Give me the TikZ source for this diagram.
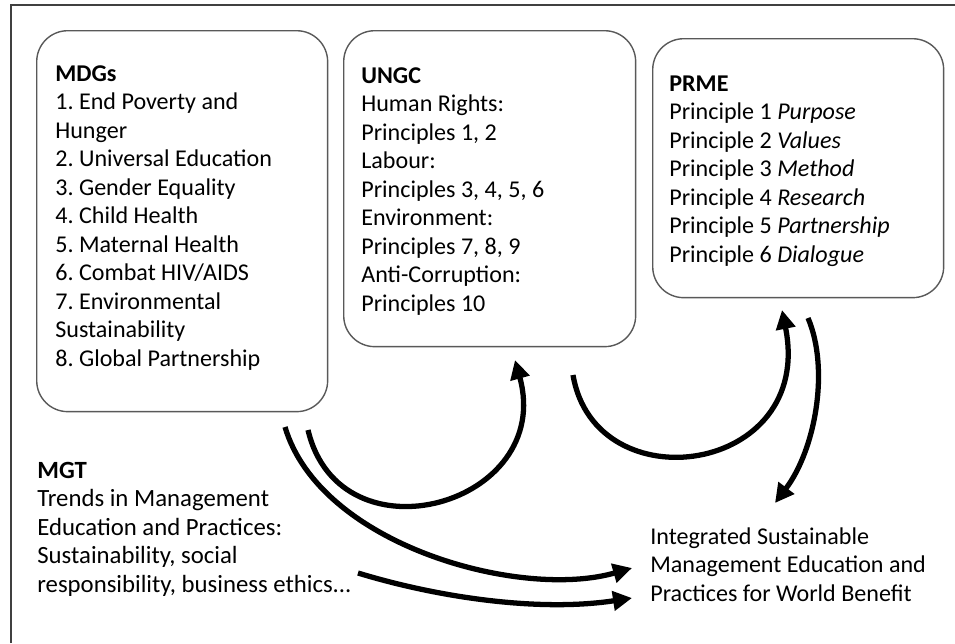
\documentclass[tikz,border=0pt]{standalone}
\usepackage{fontspec}
\setmainfont{Carlito}
\usetikzlibrary{arrows.meta}

\begin{document}
\begin{tikzpicture}[x=0.02cm, y=-0.02cm,
    panel/.style={draw=black!65, line width=0.8pt, rounded corners=0.62cm, anchor=north west, inner sep=0},
    txt/.style={anchor=base west, align=left, inner sep=0, font=\fontsize{13.7}{16.2}\selectfont\frenchspacing},
    flow/.style={line width=3pt, -{Triangle[length=0.38cm, width=0.38cm]}}]
  \useasboundingbox (0,0) rectangle (955,643);
  \draw[line width=1.1pt, black!75] (11,643) -- (11,5) -- (955,5);

  \node[panel, minimum width=5.82cm, minimum height=7.62cm] (mdg) at (36,30) {};
  \node[panel, minimum width=5.84cm, minimum height=6.32cm] (ungc) at (343,30) {};
  \node[panel, minimum width=5.82cm, minimum height=5.18cm] (prme) at (652,38) {};

  \node[txt] (mdgtext) at (55,366) {\textbf{MDGs}\\1. End Poverty and\\Hunger\\2. Universal Education\\3. Gender Equality\\4. Child Health\\5. Maternal Health\\6. Combat HIV/AIDS\\7. Environmental\\Sustainability\\8. Global Partnership};
  \node[txt] (ungctext) at (361,311) {\textbf{UNGC}\\Human Rights:\\Principles 1, 2\\Labour:\\Principles 3, 4, 5, 6\\Environment:\\Principles 7, 8, 9\\Anti-Corruption:\\Principles 10};
  \node[txt] (prmetext) at (669,262) {\textbf{PRME}\\Principle 1 \textit{Purpose}\\Principle 2 \textit{Values}\\Principle 3 \textit{Method}\\Principle 4 \textit{Research}\\Principle 5 \textit{Partnership}\\Principle 6 \textit{Dialogue}};
  \node[txt, font=\fontsize{14.1}{16.2}\selectfont\frenchspacing] (mgt) at (37,592) {\textbf{MGT}\\Trends in Management\\Education and Practices:\\Sustainability, social\\responsibility, business ethics...};
  \node[txt] (isme) at (650,601) {Integrated Sustainable\\Management Education and\\Practices for World Benefit};

  \coordinate (mdgout1) at (285,427);
  \coordinate (mdgout2) at (308,430);
  \coordinate (ungcin) at (515,360);
  \coordinate (ungcout) at (573,375);
  \coordinate (prmein) at (782,310);
  \coordinate (prmeout) at (808,318);
  \coordinate (mgtout) at (358,573);
  \coordinate (ismein1) at (632,568);
  \coordinate (ismein2) at (632,598);
  \coordinate (ismein3) at (775,503);

  \draw[flow] (mdgout1) .. controls (320,545) and (520,600) .. (ismein1);
  \draw[flow] (mdgout2) .. controls (340,565) and (555,505) .. (ungcin);
  \draw[flow] (ungcout) .. controls (595,505) and (815,475) .. (prmein);
  \draw[flow] (prmeout) .. controls (830,370) and (815,450) .. (ismein3);
  \draw[flow] (mgtout) .. controls (440,598) and (540,612) .. (ismein2);
\end{tikzpicture}
\end{document}
